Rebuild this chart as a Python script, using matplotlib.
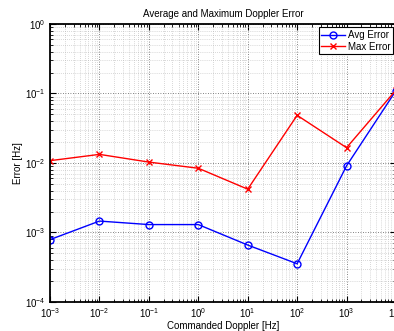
import matplotlib
matplotlib.use("Agg")
import matplotlib.pyplot as plt
from matplotlib.ticker import LogLocator, NullFormatter

plt.rcParams["font.family"] = ["Liberation Sans", "DejaVu Sans"]
plt.rcParams["mathtext.fontset"] = "custom"
plt.rcParams["mathtext.rm"] = "Liberation Sans"

# commanded doppler [Hz] and error values [Hz]
doppler = [1e-3, 1e-2, 1e-1, 1e0, 1e1, 1e2, 1e3, 1e4]
avg_error = [7.9e-4, 1.46e-3, 1.30e-3, 1.30e-3, 6.6e-4, 3.55e-4, 9.1e-3, 0.11]
max_error = [0.0108, 0.0133, 0.0103, 0.0084, 4.2e-3, 0.0485, 0.0166, 0.112]

fig = plt.figure(figsize=(3.94, 3.31), dpi=100)
ax = fig.add_axes([0.127, 0.0876, 0.878, 0.840])

ax.plot(doppler, avg_error, color="blue", marker="o", markersize=5,
        markerfacecolor="none", markeredgewidth=1.0, linewidth=1.0,
        label="Avg Error")
ax.plot(doppler, max_error, color="red", marker="x", markersize=4,
        markeredgewidth=1.0, linewidth=1.0, label="Max Error")

ax.set_xscale("log")
ax.set_yscale("log")
ax.set_xlim(1e-3, 1e4)
ax.set_ylim(1e-4, 1e0)

ax.xaxis.set_major_locator(LogLocator(base=10, numticks=20))
ax.yaxis.set_major_locator(LogLocator(base=10, numticks=20))
ax.xaxis.set_minor_locator(LogLocator(base=10, subs=range(2, 10), numticks=20))
ax.yaxis.set_minor_locator(LogLocator(base=10, subs=range(2, 10), numticks=20))
ax.xaxis.set_minor_formatter(NullFormatter())
ax.yaxis.set_minor_formatter(NullFormatter())

ax.grid(True, which="major", linestyle=(0, (1, 2)), color="0.35", linewidth=0.6)
ax.grid(True, which="minor", linestyle=(0, (1, 2)), color="0.7", linewidth=0.5)
ax.tick_params(which="both", direction="in", top=True, right=True,
               labelsize=7, pad=3)
ax.tick_params(which="major", length=4, width=0.8)
ax.tick_params(which="minor", length=2, width=0.6)
for s in ax.spines.values():
    s.set_linewidth(1.3)

ax.set_title("Average and Maximum Doppler Error", fontsize=7, pad=5)
ax.set_xlabel("Commanded Doppler [Hz]", fontsize=7, labelpad=1)
ax.set_ylabel("Error [Hz]", fontsize=7, labelpad=2)

leg = ax.legend(loc="upper right", bbox_to_anchor=(0.998, 0.918),
                bbox_transform=fig.transFigure, fontsize=7, frameon=True,
                fancybox=False, edgecolor="black", framealpha=1,
                borderpad=0.3, labelspacing=0.15, handlelength=2.4,
                handletextpad=0.3, borderaxespad=0)
leg.get_frame().set_linewidth(0.8)

fig.savefig("out.png", dpi=100)
